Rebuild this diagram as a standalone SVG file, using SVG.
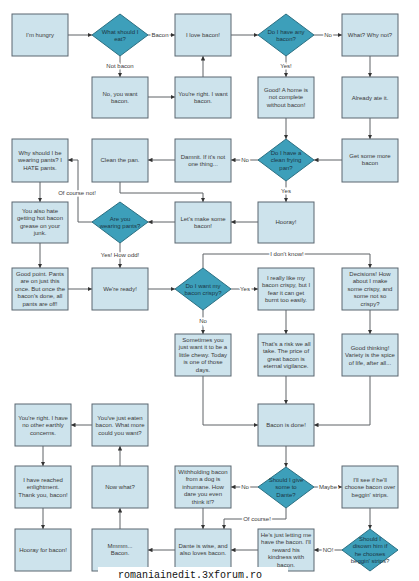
<svg xmlns="http://www.w3.org/2000/svg" width="419" height="581" viewBox="0 0 419 581">
<defs>
<marker id="ah" viewBox="0 0 10 10" refX="10" refY="5" markerWidth="4.5" markerHeight="4.5" markerUnits="userSpaceOnUse" orient="auto">
<path d="M0,0 L10,5 L0,10 z" fill="#333"/>
</marker>
<style>
.box{fill:#cde3ec;stroke:#5a6770;stroke-width:1}
.dia{fill:#3d9fba;stroke:#2b6f82;stroke-width:1}
.t{font-family:"Liberation Sans",Arial,sans-serif;font-size:6px;fill:#3a3a3a;text-anchor:middle}
.dt{font-family:"Liberation Sans",Arial,sans-serif;font-size:6px;fill:#1c3644;text-anchor:middle}
.c{fill:none;stroke:#5f6367;stroke-width:1;marker-end:url(#ah)}
.lb{font-family:"Liberation Sans",Arial,sans-serif;font-size:6px;fill:#3a3a3a;text-anchor:middle;stroke:#fff;stroke-width:3;paint-order:stroke}
.wm{font-family:"Liberation Mono","Courier New",monospace;font-size:10px;fill:#111}
</style>
</defs>
<rect width="419" height="581" fill="#fff"/>

<g id="connectors">
<path class="c" d="M68,35 H92"/>
<path class="c" d="M148,35 H175"/>
<path class="c" d="M120,56 V77"/>
<path class="c" d="M148,97 H175"/>
<path class="c" d="M203,77 V56"/>
<path class="c" d="M231,35 H258"/>
<path class="c" d="M314,35 H342"/>
<path class="c" d="M286,56 V77"/>
<path class="c" d="M370,56 V77"/>
<path class="c" d="M370,118 V139"/>
<path class="c" d="M286,118 V139"/>
<path class="c" d="M342,160 H314"/>
<path class="c" d="M259,160 H231"/>
<path class="c" d="M286,181 V202"/>
<path class="c" d="M175,160 H148"/>
<path class="c" d="M120,182 V193 H203 V202"/>
<path class="c" d="M258,222 H231"/>
<path class="c" d="M175,222 H148"/>
<path class="c" d="M93,222 H78 V160 H68"/>
<path class="c" d="M120,243 V268"/>
<path class="c" d="M40,182 V202"/>
<path class="c" d="M40,243 V268"/>
<path class="c" d="M68,289 H92"/>
<path class="c" d="M148,289 H175"/>
<path class="c" d="M231,289 H258"/>
<path class="c" d="M203,268 V254 H370 V268"/>
<path class="c" d="M203,310 V334"/>
<path class="c" d="M286,310 V334"/>
<path class="c" d="M370,310 V334"/>
<path class="c" d="M286,376 V404"/>
<path class="c" d="M203,376 V425 H258"/>
<path class="c" d="M370,376 V425 H314"/>
<path class="c" d="M286,446 V467"/>
<path class="c" d="M259,487 H231"/>
<path class="c" d="M314,487 H342"/>
<path class="c" d="M286,508 V519 H224 V529"/>
<path class="c" d="M203,508 V529"/>
<path class="c" d="M370,508 V529"/>
<path class="c" d="M343,550 H314"/>
<path class="c" d="M258,550 H231"/>
<path class="c" d="M175,550 H148"/>
<path class="c" d="M120,529 V508"/>
<path class="c" d="M120,466 V446"/>
<path class="c" d="M92,425 H71"/>
<path class="c" d="M43,446 V466"/>
<path class="c" d="M43,508 V529"/>
<text class="lb" x="160" y="37">Bacon</text>
<text class="lb" x="120" y="68">Not bacon</text>
<text class="lb" x="328" y="37">No</text>
<text class="lb" x="286" y="68">Yes!</text>
<text class="lb" x="245" y="162">No</text>
<text class="lb" x="286" y="193">Yes</text>
<text class="lb" x="77" y="195">Of course not!</text>
<text class="lb" x="120" y="257">Yes! How odd!</text>
<text class="lb" x="245" y="291">Yes</text>
<text class="lb" x="287" y="256">I don't know!</text>
<text class="lb" x="203" y="323">No</text>
<text class="lb" x="245" y="489">No</text>
<text class="lb" x="328" y="489">Maybe</text>
<text class="lb" x="257" y="521">Of course!</text>
<text class="lb" x="328" y="552">NO!</text>
</g>

<g id="n1"><rect class="box" x="12" y="14" width="56" height="42"/><text class="t" x="40" y="37">I'm hungry</text></g>
<g id="d1"><path class="dia" d="M120,14 L148,35 L120,56 L92,35 z"/><text class="dt" x="120" y="34"><tspan x="120">What should I</tspan><tspan x="120" dy="7.4">eat?</tspan></text></g>
<g id="n2"><rect class="box" x="175" y="14" width="56" height="42"/><text class="t" x="203" y="37">I love bacon!</text></g>
<g id="d2"><path class="dia" d="M286,14 L314,35 L286,56 L258,35 z"/><text class="dt" x="286" y="34"><tspan x="286">Do I have any</tspan><tspan x="286" dy="7.4">bacon?</tspan></text></g>
<g id="n3"><rect class="box" x="342" y="14" width="56" height="42"/><text class="t" x="370" y="37">What? Why not?</text></g>

<g id="n4"><rect class="box" x="92" y="77" width="56" height="41"/><text class="t" y="96"><tspan x="120">No, you want</tspan><tspan x="120" dy="7.4">bacon.</tspan></text></g>
<g id="n5"><rect class="box" x="175" y="77" width="56" height="41"/><text class="t" y="96"><tspan x="203">You're right. I want</tspan><tspan x="203" dy="7.4">bacon.</tspan></text></g>
<g id="n6"><rect class="box" x="258" y="77" width="56" height="41"/><text class="t" y="92"><tspan x="286">Good! A home is</tspan><tspan x="286" dy="7.4">not complete</tspan><tspan x="286" dy="7.4">without bacon!</tspan></text></g>
<g id="n7"><rect class="box" x="342" y="77" width="56" height="41"/><text class="t" x="370" y="99.5">Already ate it.</text></g>

<g id="n8"><rect class="box" x="12" y="139" width="56" height="43"/><text class="t" y="155"><tspan x="40">Why should I be</tspan><tspan x="40" dy="7.4">wearing pants? I</tspan><tspan x="40" dy="7.4">HATE pants.</tspan></text></g>
<g id="n9"><rect class="box" x="92" y="139" width="56" height="43"/><text class="t" x="120" y="162">Clean the pan.</text></g>
<g id="n10"><rect class="box" x="175" y="139" width="56" height="43"/><text class="t" y="159"><tspan x="203">Damnit. If it's not</tspan><tspan x="203" dy="7.4">one thing...</tspan></text></g>
<g id="d3"><path class="dia" d="M286,139 L314,160 L286,181 L258,160 z"/><text class="dt" y="155"><tspan x="286">Do I have a</tspan><tspan x="286" dy="7.4">clean frying</tspan><tspan x="286" dy="7.4">pan?</tspan></text></g>
<g id="n11"><rect class="box" x="342" y="139" width="56" height="43"/><text class="t" y="158"><tspan x="370">Get some more</tspan><tspan x="370" dy="7.4">bacon</tspan></text></g>

<g id="n12"><rect class="box" x="12" y="202" width="56" height="41"/><text class="t" y="213"><tspan x="40">You also hate</tspan><tspan x="40" dy="7.4">getting hot bacon</tspan><tspan x="40" dy="7.4">grease on your</tspan><tspan x="40" dy="7.4">junk.</tspan></text></g>
<g id="d4"><path class="dia" d="M120,202 L148,222 L120,243 L92,222 z"/><text class="dt" y="221"><tspan x="120">Are you</tspan><tspan x="120" dy="7.4">wearing pants?</tspan></text></g>
<g id="n13"><rect class="box" x="175" y="202" width="56" height="41"/><text class="t" y="221"><tspan x="203">Let's make some</tspan><tspan x="203" dy="7.4">bacon!</tspan></text></g>
<g id="n14"><rect class="box" x="258" y="202" width="56" height="41"/><text class="t" x="286" y="224">Hooray!</text></g>

<g id="n15"><rect class="box" x="12" y="268" width="56" height="42"/><text class="t" y="276"><tspan x="40">Good point. Pants</tspan><tspan x="40" dy="7.4">are on just this</tspan><tspan x="40" dy="7.4">once. But once the</tspan><tspan x="40" dy="7.4">bacon's done, all</tspan><tspan x="40" dy="7.4">pants are off!</tspan></text></g>
<g id="n16"><rect class="box" x="92" y="268" width="56" height="42"/><text class="t" x="120" y="291">We're ready!</text></g>
<g id="d5"><path class="dia" d="M203,268 L231,289 L203,310 L175,289 z"/><text class="dt" y="288"><tspan x="203">Do I want my</tspan><tspan x="203" dy="7.4">bacon crispy?</tspan></text></g>
<g id="n17"><rect class="box" x="258" y="268" width="56" height="42"/><text class="t" y="280"><tspan x="286">I really like my</tspan><tspan x="286" dy="7.4">bacon crispy, but I</tspan><tspan x="286" dy="7.4">fear it can get</tspan><tspan x="286" dy="7.4">burnt too easily.</tspan></text></g>
<g id="n18"><rect class="box" x="342" y="268" width="56" height="42"/><text class="t" y="276"><tspan x="370">Decisions! How</tspan><tspan x="370" dy="7.4">about I make</tspan><tspan x="370" dy="7.4">some crispy, and</tspan><tspan x="370" dy="7.4">some not so</tspan><tspan x="370" dy="7.4">crispy?</tspan></text></g>

<g id="n19"><rect class="box" x="175" y="334" width="56" height="42"/><text class="t" y="342"><tspan x="203">Sometimes you</tspan><tspan x="203" dy="7.4">just want it to be a</tspan><tspan x="203" dy="7.4">little chewy. Today</tspan><tspan x="203" dy="7.4">is one of those</tspan><tspan x="203" dy="7.4">days.</tspan></text></g>
<g id="n20"><rect class="box" x="258" y="334" width="56" height="42"/><text class="t" y="346"><tspan x="286">That's a risk we all</tspan><tspan x="286" dy="7.4">take. The price of</tspan><tspan x="286" dy="7.4">great bacon is</tspan><tspan x="286" dy="7.4">eternal vigilance.</tspan></text></g>
<g id="n21"><rect class="box" x="342" y="334" width="56" height="42"/><text class="t" y="350"><tspan x="370">Good thinking!</tspan><tspan x="370" dy="7.4">Variety is the spice</tspan><tspan x="370" dy="7.4">of life, after all...</tspan></text></g>

<g id="n22"><rect class="box" x="15" y="404" width="56" height="42"/><text class="t" y="420"><tspan x="43">You're right. I have</tspan><tspan x="43" dy="7.4">no other earthly</tspan><tspan x="43" dy="7.4">concerns.</tspan></text></g>
<g id="n23"><rect class="box" x="92" y="404" width="56" height="42"/><text class="t" y="420"><tspan x="120">You've just eaten</tspan><tspan x="120" dy="7.4">bacon. What more</tspan><tspan x="120" dy="7.4">could you want?</tspan></text></g>
<g id="n24"><rect class="box" x="258" y="404" width="56" height="42"/><text class="t" x="286" y="427">Bacon is done!</text></g>

<g id="n25"><rect class="box" x="15" y="466" width="56" height="42"/><text class="t" y="482"><tspan x="43">I have reached</tspan><tspan x="43" dy="7.4">enlightment.</tspan><tspan x="43" dy="7.4">Thank you, bacon!</tspan></text></g>
<g id="n26"><rect class="box" x="92" y="466" width="56" height="42"/><text class="t" x="120" y="489">Now what?</text></g>
<g id="n27"><rect class="box" x="175" y="466" width="56" height="42"/><text class="t" y="474"><tspan x="203">Withholding bacon</tspan><tspan x="203" dy="7.4">from a dog is</tspan><tspan x="203" dy="7.4">inhumane. How</tspan><tspan x="203" dy="7.4">dare you even</tspan><tspan x="203" dy="7.4">think it!?</tspan></text></g>
<g id="d6"><path class="dia" d="M286,467 L314,487 L286,508 L258,487 z"/><text class="dt" y="482"><tspan x="286">Should I give</tspan><tspan x="286" dy="7.4">some to</tspan><tspan x="286" dy="7.4">Dante?</tspan></text></g>
<g id="n28"><rect class="box" x="342" y="466" width="56" height="42"/><text class="t" y="482"><tspan x="370">I'll see if he'll</tspan><tspan x="370" dy="7.4">choose bacon over</tspan><tspan x="370" dy="7.4">beggin' strips.</tspan></text></g>

<g id="n29"><rect class="box" x="15" y="529" width="56" height="42"/><text class="t" x="43" y="552">Hooray for bacon!</text></g>
<g id="n30"><rect class="box" x="92" y="529" width="56" height="42"/><text class="t" y="548"><tspan x="120">Mmmm...</tspan><tspan x="120" dy="7.4">Bacon.</tspan></text></g>
<g id="n31"><rect class="box" x="175" y="529" width="56" height="42"/><text class="t" y="548"><tspan x="203">Dante is wise, and</tspan><tspan x="203" dy="7.4">also loves bacon.</tspan></text></g>
<g id="n32"><rect class="box" x="258" y="529" width="56" height="42"/><text class="t" y="537"><tspan x="286">He's just letting me</tspan><tspan x="286" dy="7.4">have the bacon. I'll</tspan><tspan x="286" dy="7.4">reward his</tspan><tspan x="286" dy="7.4">kindness with</tspan><tspan x="286" dy="7.4">bacon.</tspan></text></g>
<g id="d7"><path class="dia" d="M370,529 L398,550 L370,571 L342,550 z"/><text class="dt" y="541"><tspan x="370">Should I</tspan><tspan x="370" dy="7.4">disown him if</tspan><tspan x="370" dy="7.4">he chooses</tspan><tspan x="370" dy="7.4">beggin' strips?</tspan></text></g>

<g id="watermark"><rect x="98" y="567" width="190" height="14" fill="#fff"/><text class="wm" x="118" y="577.5">romaniainedit.3xforum.ro</text></g>
</svg>
